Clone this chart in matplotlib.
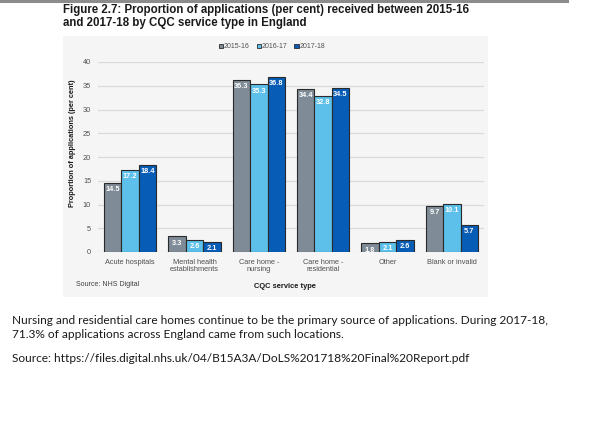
import matplotlib
matplotlib.use('Agg')
import matplotlib.pyplot as plt
from matplotlib.patches import Rectangle, Patch
from matplotlib.lines import Line2D
import numpy as np

W, H = 590, 433

categories = ['Acute hospitals', 'Mental health\nestablishments', 'Care home -\nnursing',
              'Care home -\nresidential', 'Other', 'Blank or invalid']
years = ['2015-16', '2016-17', '2017-18']
values_1516 = [14.5, 3.3, 36.3, 34.4, 1.8, 9.7]
values_1617 = [17.2, 2.6, 35.3, 32.8, 2.1, 10.1]
values_1718 = [18.4, 2.1, 36.8, 34.5, 2.6, 5.7]
y_ticks = [0, 5, 10, 15, 20, 25, 30, 35, 40]

colors = ['#7f8b97', '#5cc0ea', '#075cb6']


def fx(x):
    return x / W


def fy(y):
    return 1 - y / H


fig = plt.figure(figsize=(W / 100, H / 100), dpi=100)
fig.patch.set_facecolor('white')

# grey rule at the top of the page
fig.add_artist(Line2D([0, fx(567)], [fy(1), fy(1)], color='#8c8c8c', lw=2.2))

# chart panel background
fig.add_artist(Rectangle((fx(63), fy(297)), fx(488) - fx(63), fy(36) - fy(297),
                         facecolor='#f5f5f5', edgecolor='none', zorder=0))

fig.text(fx(63), fy(3.5), 'Figure 2.7: Proportion of applications (per cent) received between 2015-16\n'
         'and 2017-18 by CQC service type in England',
         family='Liberation Sans', weight='bold', fontsize=8.3, va='top', ha='left',
         color='#1a1a1a', linespacing=1.15)

ax = fig.add_axes([fx(98), fy(252), fx(484) - fx(98), fy(62) - fy(252)])
ax.set_facecolor('none')

x = np.arange(len(categories))
bw = 0.27
series = [values_1516, values_1617, values_1718]
for i, vals in enumerate(series):
    bars = ax.bar(x + (i - 1) * bw, vals, bw, color=colors[i], edgecolor='#2a2a2a',
                  linewidth=0.8, zorder=3, label=years[i])
    for b, v in zip(bars, vals):
        ax.annotate(f'{v}', (b.get_x() + b.get_width() / 2, v), xytext=(0, -2.3),
                    textcoords='offset points', ha='center', va='top', color='white',
                    fontsize=5.3, weight='bold', family='Liberation Sans', zorder=4)

ax.set_ylim(0, 40)
ax.set_xlim(-0.5, len(categories) - 0.5)
ax.set_yticks(y_ticks)
ax.set_xticks(x)
ax.set_xticklabels(categories, family='Liberation Sans', fontsize=5.3, color='#404040',
                   linespacing=1.1)
ax.tick_params(axis='both', length=0, labelsize=5.3, labelcolor='#505050', pad=5)
for lbl in ax.get_yticklabels():
    lbl.set_family('Liberation Sans')
ax.grid(axis='y', color='#d9d9d9', lw=0.9, zorder=0)
for s in ax.spines.values():
    s.set_visible(False)

handles = [Patch(facecolor=c, edgecolor='#2a2a2a', linewidth=0.6) for c in colors]
fig.legend(handles, years, loc='center', bbox_to_anchor=(fx(272), fy(47)), ncol=3,
           frameon=False, handlelength=0.6, handleheight=0.6, handletextpad=0.15,
           columnspacing=1.0, prop={'family': 'Liberation Sans', 'size': 5.0},
           labelcolor='#505050')

fig.text(fx(72), fy(143.5), 'Proportion of applications (per cent)', rotation=90,
         ha='center', va='center', family='Liberation Sans', weight='bold',
         fontsize=5.3, color='#1a1a1a')
fig.text(fx(76), fy(284), 'Source: NHS Digital', ha='left', va='center',
         family='Liberation Sans', fontsize=5.0, color='#404040')
fig.text(fx(285), fy(287), 'CQC service type', ha='center', va='center',
         family='Liberation Sans', weight='bold', fontsize=5.4, color='#1a1a1a')

body = ('Nursing and residential care homes continue to be the primary source of applications. '
        'During 2017-18,\n71.3% of applications across England came from such locations.')
fig.text(fx(12.5), fy(315), body, ha='left', va='top', family='Lato', fontsize=8.6,
         color='#1a1a1a', linespacing=1.35)
fig.text(fx(12.5), fy(352.5), 'Source: https://files.digital.nhs.uk/04/B15A3A/DoLS%201718%20Final%20Report.pdf',
         ha='left', va='top', family='Lato', fontsize=8.6, color='#1a1a1a')

fig.savefig('out.png', dpi=100)
